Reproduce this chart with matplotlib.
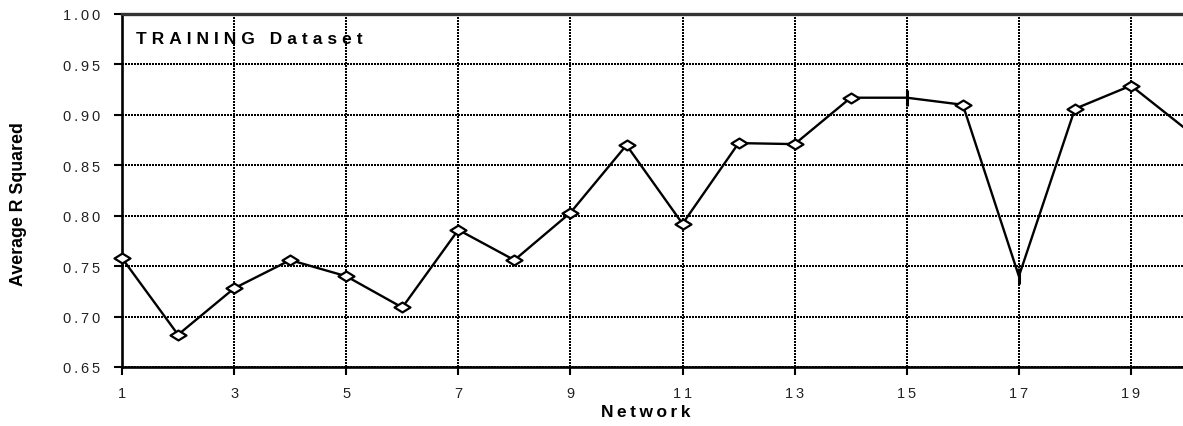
import matplotlib
matplotlib.use("Agg")
import matplotlib.pyplot as plt
from matplotlib.path import Path

# Average R squared for each trained network
networks = list(range(1, 21))
r_squared = [0.758, 0.682, 0.728, 0.756, 0.740, 0.709, 0.786, 0.756, 0.803, 0.870,
             0.792, 0.872, 0.871, 0.917, 0.917, 0.910, 0.740, 0.906, 0.929, 0.885]
x_ticks = list(range(1, 20, 2))
y_ticks = [0.65, 0.70, 0.75, 0.80, 0.85, 0.90, 0.95, 1.00]

FONT = ["Liberation Sans", "DejaVu Sans"]
THIN = "\u2009"
HAIR = "\u200a"


def track(s, sep=THIN):
    """Letter-spaced version of a label."""
    return sep.join(s)


plt.rcParams["font.family"] = FONT

fig = plt.figure(figsize=(11.83, 4.27), dpi=100)
ax = fig.add_axes([122 / 1183, 1 - 368 / 427, 1 - 122 / 1183, (368 - 15) / 427])

# flattened diamond marker
diamond = Path([(-1, 0), (0, 0.62), (1, 0), (0, -0.62), (-1, 0)],
               [Path.MOVETO, Path.LINETO, Path.LINETO, Path.LINETO, Path.CLOSEPOLY])

ax.set_xlim(1, 1 + (1183 - 122) / ((1131 - 122) / 18))
ax.set_ylim(0.65, 1.00)

ax.plot(networks, r_squared, color="black", lw=1.7, zorder=3, clip_on=True)
plain = [i for i, n in enumerate(networks) if n not in (15, 17)]
ax.plot([networks[i] for i in plain if networks[i] < 20],
        [r_squared[i] for i in plain if networks[i] < 20], ls="none",
        marker=diamond, ms=11.5, mfc="white", mec="black", mew=1.6, zorder=4, clip_on=False)
bar_idx = [i for i, n in enumerate(networks) if n in (15, 17)]
ax.plot([networks[i] for i in bar_idx], [r_squared[i] for i in bar_idx], ls="none",
        marker="|", ms=12, mec="black", mew=2.2, zorder=4)

ax.set_xticks(x_ticks)
ax.set_xticklabels([track(str(v)) for v in x_ticks])
ax.set_yticks(y_ticks)
ax.set_yticklabels([track(f"{v:.2f}") for v in y_ticks])
ax.tick_params(axis="both", direction="out", length=5.5, width=1.5, colors="black",
               labelsize=10.5, labelcolor="#222222")
ax.tick_params(axis="y", pad=10.5)
ax.tick_params(axis="x", pad=8.5)
ax.tick_params(top=False, right=False)

ax.grid(True, color="black", lw=1.2, ls=(0, (1.15, 0.75)))
for gl in ax.get_xgridlines() + ax.get_ygridlines():
    gl.set_antialiased(False)
ax.set_axisbelow(True)

for side in ("left", "bottom"):
    ax.spines[side].set_linewidth(1.9)
ax.spines["top"].set_linewidth(2.4)
ax.spines["top"].set_color("#333333")
ax.spines["right"].set_visible(False)

ax.set_xlabel(track("Network"), fontsize=12.5, fontweight="bold")
ax.xaxis.set_label_coords((645.5 - 122) / (1183 - 122), -(413 - 368) / 353, transform=ax.transAxes)
ax.xaxis.label.set_va("center")
ax.set_ylabel("Average R Squared", fontsize=12.8, fontweight="bold")
ax.yaxis.set_label_coords(-(122 - 19) / (1183 - 122), 1 - (204 - 15) / 353, transform=ax.transAxes)
ax.yaxis.label.set_va("center")

ax.text((136 - 122) / (1183 - 122), 1 - (39.5 - 15) / 353, track("TRAINING Dataset", THIN + HAIR),
        transform=ax.transAxes, fontsize=12.5, fontweight="bold", ha="left", va="center")

fig.savefig("out.png", dpi=100)
